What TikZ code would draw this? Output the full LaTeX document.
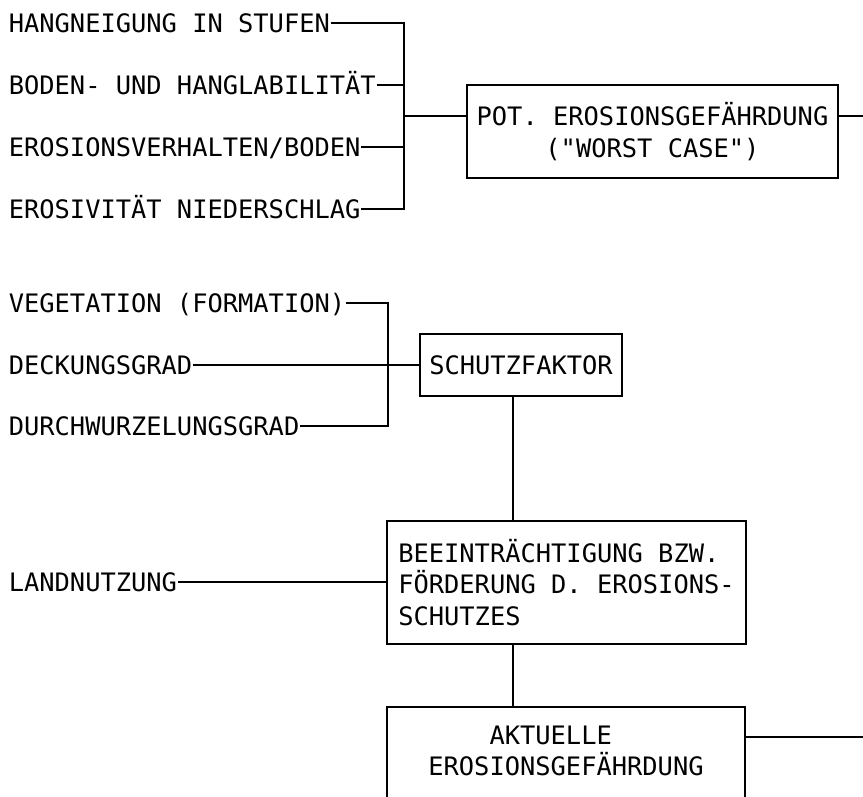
\documentclass[tikz,border=0pt]{standalone}
\usepackage{fontspec}
\setmainfont{DejaVu Sans Mono}[Ligatures=TeXOff]
\begin{document}
\begin{tikzpicture}[x=1pt,y=-1pt,line width=1.6pt,
  every node/.style={font=\fontsize{25.4}{31.5}\selectfont},
  lab/.style={anchor=west,inner sep=0pt,text height=18.5pt,text depth=0pt},
  box/.style={draw,inner sep=0pt,align=center},
  wire/.style={line width=1.6pt}]
\useasboundingbox (0,0) rectangle (863,797);
\clip (0,0) rectangle (863,797);
% group 1
\node[lab] (l1) at (8,23) {HANGNEIGUNG IN STUFEN};
\node[lab] (l2) at (8,85) {BODEN- UND HANGLABILITÄT};
\node[lab] (l3) at (8,147) {EROSIONSVERHALTEN/BODEN};
\node[lab] (l4) at (8,209) {EROSIVITÄT NIEDERSCHLAG};
\node[box,minimum width=371pt,minimum height=93pt] (b1) at (652.5,131.5)
  {POT. EROSIONSGEFÄHRDUNG\\("WORST CASE")};
\coordinate (j1) at (404,116);
\coordinate (e1) at (863,116);
\draw[wire] (l1.east) -| (j1);
\draw[wire] (l4.east) -| (j1);
\draw[wire] (l2.east) -- (l2.east -| j1);
\draw[wire] (l3.east) -- (l3.east -| j1);
\draw[wire] (j1) -- (j1 -| b1.west);
\draw[wire] (e1 -| b1.east) -- (e1);
% group 2
\node[lab] (v1) at (8,303) {VEGETATION (FORMATION)};
\node[lab] (v2) at (8,365) {DECKUNGSGRAD};
\node[lab] (v3) at (8,426) {DURCHWURZELUNGSGRAD};
\node[box,minimum width=202pt,minimum height=62pt] (b2) at (521,365) {SCHUTZFAKTOR};
\coordinate (j2) at (388,365);
\draw[wire] (v1.east) -| (j2);
\draw[wire] (v3.east) -| (j2);
\draw[wire] (v2.east) -- (b2.west);
% box 3
\node[box,minimum width=359pt,minimum height=123pt,align=left] (b3) at (566.5,582.5)
  {BEEINTRÄCHTIGUNG BZW.\\FÖRDERUNG D. EROSIONS-\\SCHUTZES};
\node[lab] (ln) at (8,582) {LANDNUTZUNG};
\draw[wire] (ln.east) -- (ln.east -| b3.west);
\coordinate (cx) at (513,0);
\draw[wire] (b2.south -| cx) -- (b3.north -| cx);
% box 4
\node[draw,inner sep=0pt,minimum width=358pt,minimum height=140pt] (b4) at (566,777) {};
\node[align=center,inner sep=0pt] (t4) at (566,751) {AKTUELLE\hphantom{AA}\\EROSIONSGEFÄHRDUNG};
\draw[wire] (b3.south -| cx) -- (b4.north -| cx);
\coordinate (e2) at (863,737);
\draw[wire] (e2 -| b4.east) -- (e2);
\end{tikzpicture}
\end{document}
